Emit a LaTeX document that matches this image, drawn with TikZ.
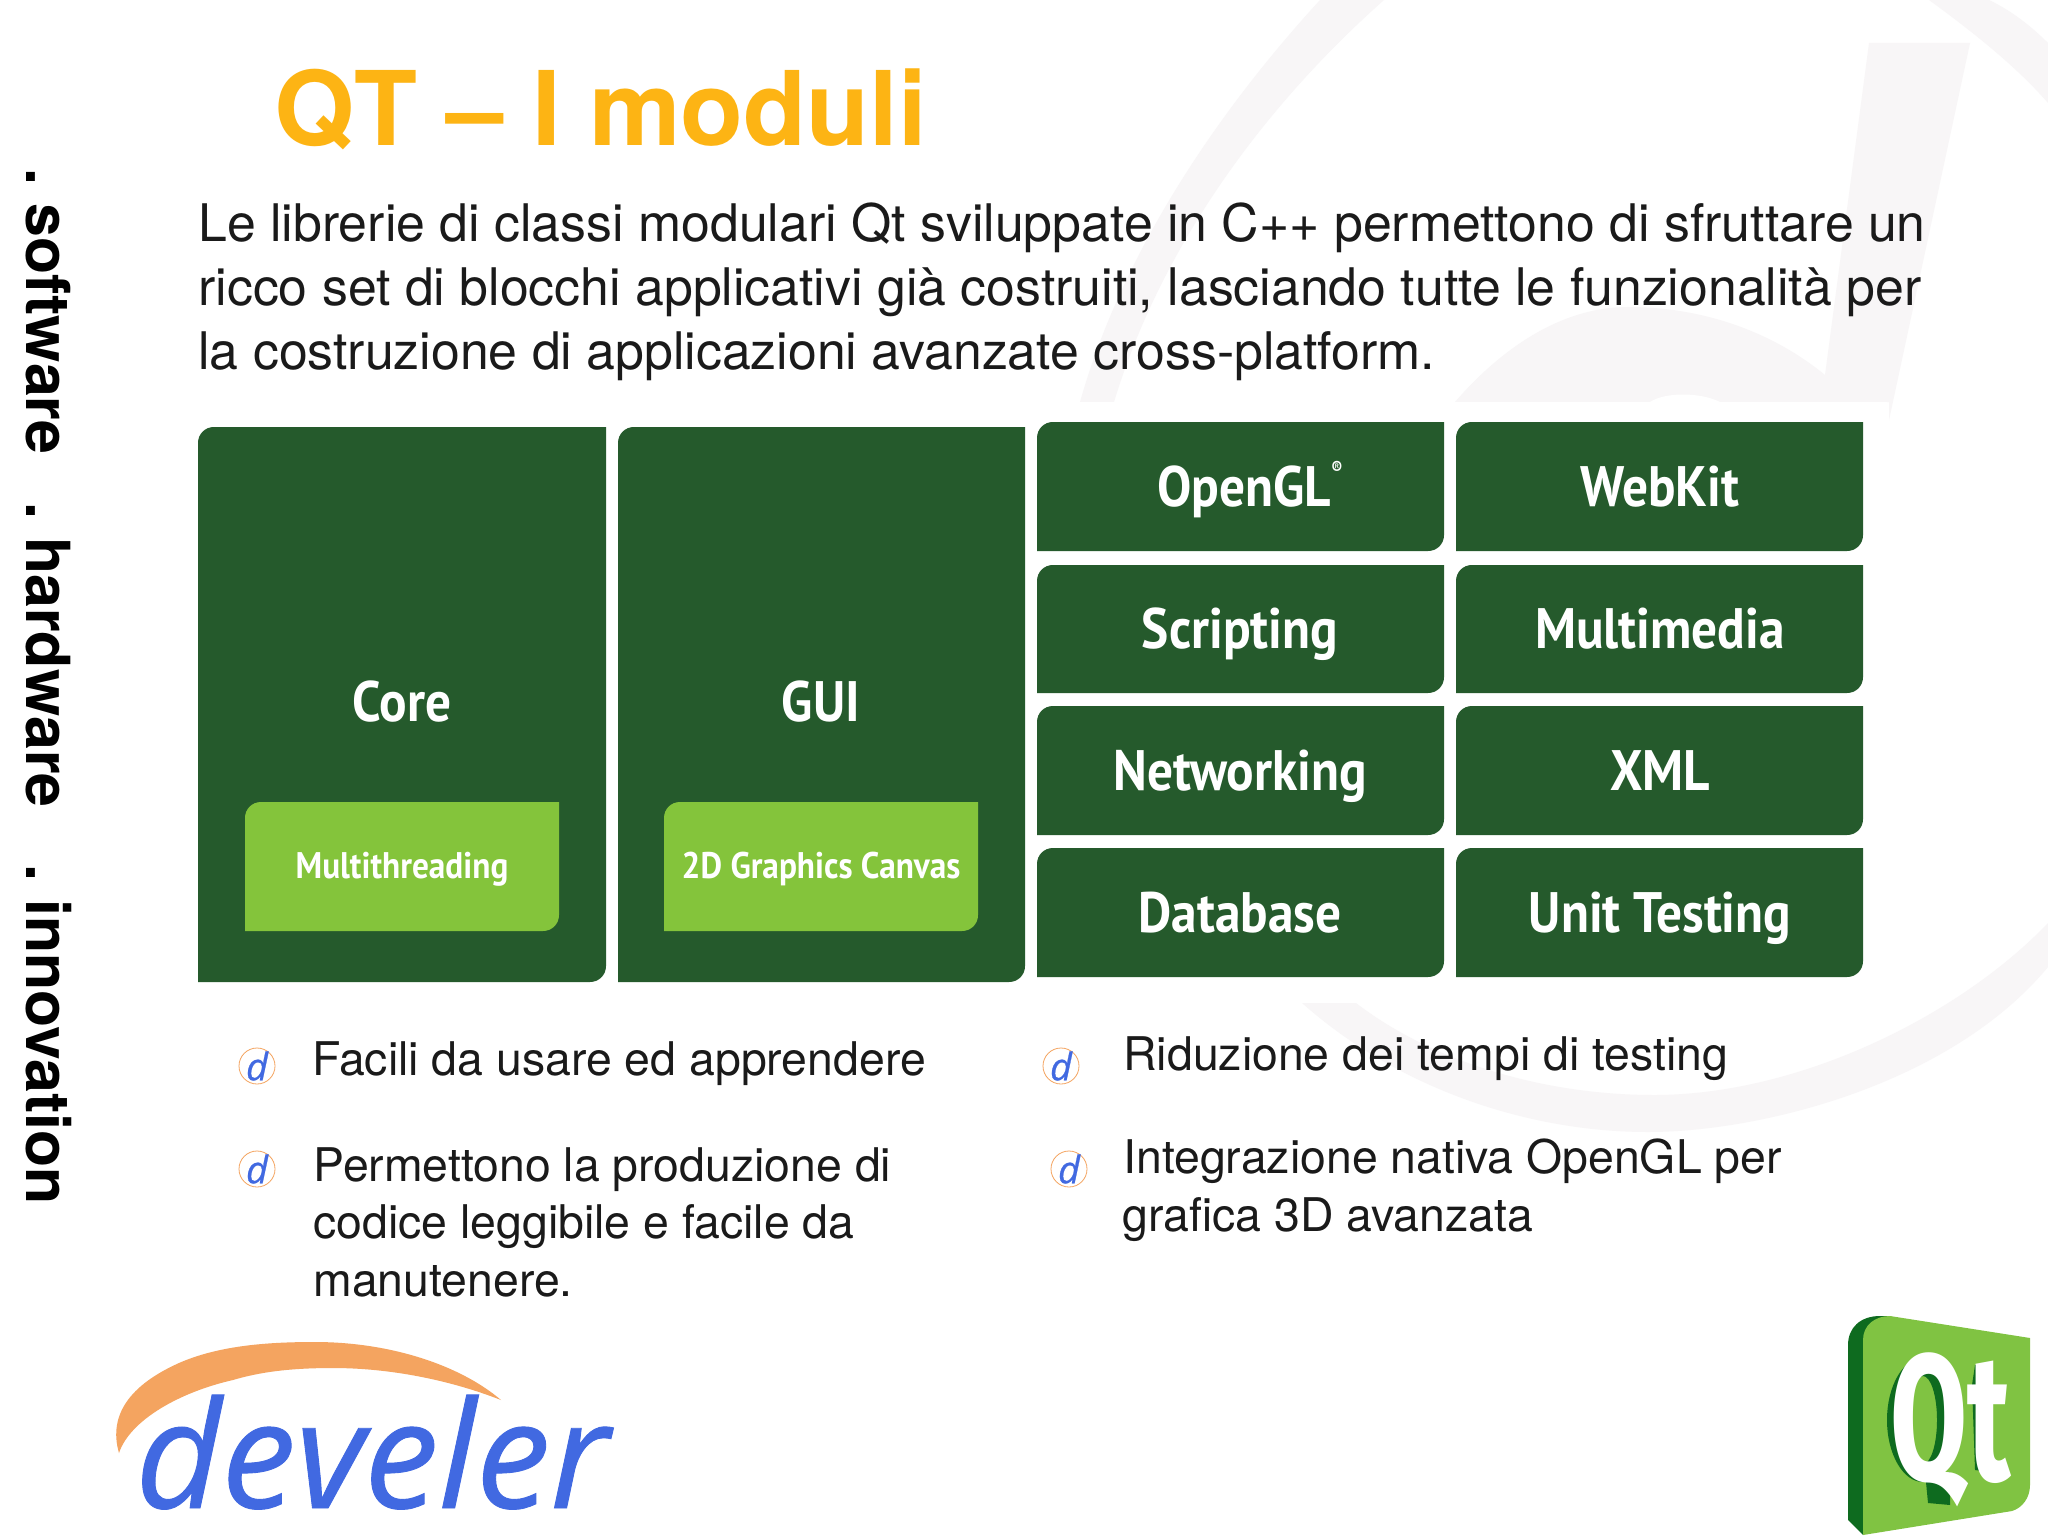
\documentclass[tikz,border=0pt]{standalone}
\usepackage{fontspec}
\setmainfont{TeX Gyre Heros}
\newfontfamily\boxfont[FakeStretch=0.9]{PT Sans}
\newfontfamily\qtfont[FakeStretch=0.62]{Fira Sans}
\newfontfamily\logofont[FakeBold=0.6]{Open Sans}
\definecolor{modgreen}{HTML}{255A2C}
\definecolor{litegreen}{HTML}{84C43B}
\definecolor{wm}{HTML}{F8F6F7}
\definecolor{titleor}{HTML}{FDB414}
\definecolor{textc}{HTML}{1A1A1A}
\definecolor{logoblue}{HTML}{4169E1}
\definecolor{logoor}{HTML}{F4A460}
\definecolor{qtlight}{HTML}{80C342}
\definecolor{qtdark}{HTML}{0E6B1F}
\newcommand{\modshape}[5]{\fill[#5] (#1,#4) -- (#1,{#2+16}) .. controls (#1,{#2+7}) and ({#1+7},#2) .. ({#1+16},#2) -- (#3,#2) -- (#3,{#4-16}) .. controls (#3,{#4-7}) and ({#3-7},#4) .. ({#3-16},#4) -- cycle;}
\newcommand{\bulletd}[3]{\node[bulletc] (#1) at (#2,#3) {}; \node[bulletl] at (#1.center) {d};}
\tikzset{
  bigl/.style={anchor=base,text=white,font=\boxfont\fontsize{28.5}{28.5}\selectfont\bfseries,inner sep=0pt},
  smalll/.style={anchor=base,text=white,font=\boxfont\fontsize{18.5}{18.5}\selectfont\bfseries,inner sep=0pt},
  bodyt/.style={anchor=base west,text=textc,font=\fontsize{25.9}{25.9}\selectfont,inner sep=0pt},
  bult/.style={anchor=base west,text=textc,font=\fontsize{23.2}{23.2}\selectfont,inner sep=0pt},
  bulletc/.style={circle,draw=logoor,line width=0.4pt,fill=white,minimum size=18pt,inner sep=0pt},
  bulletl/.style={text=logoblue,font=\logofont\itshape\fontsize{19}{19}\selectfont,inner sep=0pt},
  sidet/.style={anchor=base west,rotate=-90,text=black,font=\bfseries\fontsize{30.4}{30.4}\selectfont,inner sep=0pt}
}
\begin{document}
\begin{tikzpicture}[x=0.5pt,y=-0.5pt]
\useasboundingbox (0,0) rectangle (2048,1535);
\fill[white] (0,0) rectangle (2048,1535);
% watermark
\fill[wm] (1320,0) .. controls (1210,120) and (1120,260) .. (1080,402) -- (1114,402) .. controls (1160,250) and (1260,110) .. (1384,0) -- cycle;
\fill[wm] (1929,0) .. controls (1970,30) and (2015,65) .. (2048,103) -- (2048,43) .. controls (2030,25) and (2010,10) .. (1989,0) -- cycle;
\fill[wm] (1302,1003) .. controls (1400,1090) and (1530,1132) .. (1648,1132) .. controls (1760,1132) and (1950,1085) .. (2048,967) -- (2048,923) .. controls (1960,1015) and (1800,1095) .. (1654,1095) .. controls (1540,1095) and (1430,1060) .. (1356,1003) -- cycle;
\fill[wm] (1869,43) -- (1970,43) -- (1889,420) -- (1889,402) -- (1455,402) .. controls (1500,350) and (1560,307) .. (1628,307) .. controls (1700,307) and (1770,330) .. (1825,375) -- cycle;
\fill[white] (190,402) rectangle (1887,1003);
\fill[white] (1650,402) .. controls (1665,392) and (1700,392) .. (1720,402) -- cycle;
% title and intro
\node[anchor=base west,text=titleor,font=\bfseries\fontsize{51.5}{51.5}\selectfont,inner sep=0pt] (title) at (274,146) {QT – I moduli};
\node[bodyt] (l1) at (198,242) {Le librerie di classi modulari Qt sviluppate in C++ permettono di sfruttare un};
\node[bodyt] (l2) at (198,306) {ricco set di blocchi applicativi già costruiti, lasciando tutte le funzionalità per};
\node[bodyt] (l3) at (198,370) {la costruzione di applicazioni avanzate cross-platform.};
% side
\node[sidet] (side) at (26,168) {.\hspace{9pt}software\hspace{24pt}.\hspace{9pt}hardware\hspace{28.5pt}.\hspace{9pt}innovation};
% modules
\modshape{198}{427}{606}{982}{modgreen}
\modshape{618}{427}{1025}{982}{modgreen}
\modshape{245}{802}{559}{931}{litegreen}
\modshape{664}{802}{978}{931}{litegreen}
\modshape{1037}{422}{1444}{551}{modgreen}
\modshape{1456}{422}{1863}{551}{modgreen}
\modshape{1037}{565}{1444}{693}{modgreen}
\modshape{1456}{565}{1863}{693}{modgreen}
\modshape{1037}{706}{1444}{835}{modgreen}
\modshape{1456}{706}{1863}{835}{modgreen}
\modshape{1037}{848}{1444}{977}{modgreen}
\modshape{1456}{848}{1863}{977}{modgreen}
\node[bigl] (core) at (402,721) {Core};
\node[bigl] (gui) at (821,721) {GUI};
\node[smalll] (mt) at (402,878) {Multithreading};
\node[smalll] (gc) at (821,878) {2D Graphics Canvas};
\node[bigl] (ogl) at (1250,506) {OpenGL\raisebox{0.55em}{\fontsize{9}{9}\selectfont ®}};
\node[bigl] (wk) at (1660,506) {WebKit};
\node[bigl] (scr) at (1240,648) {Scripting};
\node[bigl] (mm) at (1660,648) {Multimedia};
\node[bigl] (net) at (1240,790) {Networking};
\node[bigl] (xml) at (1660,790) {XML};
\node[bigl] (db) at (1240,932) {Database};
\node[bigl] (ut) at (1660,932) {Unit Testing};
% bullets
\bulletd{b1}{257}{1066}
\bulletd{b2}{257}{1169}
\bulletd{b3}{1061}{1066}
\bulletd{b4}{1069}{1169}
\node[bult] (t1) at (312,1075) {Facili da usare ed apprendere};
\node[bult] (t2a) at (313,1181) {Permettono la produzione di};
\node[bult] (t2b) at (313,1238) {codice leggibile e facile da};
\node[bult] (t2c) at (313,1296) {manutenere.};
\node[bult] (t3) at (1123,1070) {Riduzione dei tempi di testing};
\node[bult] (t4a) at (1123,1173) {Integrazione nativa OpenGL per};
\node[bult] (t4b) at (1122,1231) {grafica 3D avanzata};
% develer logo
\fill[logoor] (119,1453) .. controls (108,1415) and (130,1385) .. (179,1363) .. controls (220,1345) and (270,1342) .. (315,1342) .. controls (390,1342) and (460,1365) .. (501,1400) .. controls (450,1380) and (390,1368) .. (333,1368) .. controls (290,1368) and (260,1372) .. (233,1380) .. controls (180,1392) and (130,1420) .. (119,1453) -- cycle;
\node[anchor=base west,text=logoblue,font=\logofont\itshape\fontsize{74.5}{74.5}\selectfont,inner sep=0pt] (dev) at (135,1508) {develer};
% Qt logo
\fill[qtdark] (1863,1535) -- (1848,1520) -- (1848,1345) .. controls (1848,1328) and (1860,1316) .. (1880,1316) -- (1890,1316) -- (1890,1340) -- (1863,1400) -- cycle;
\fill[qtlight] (1863,1535) -- (1863,1340) .. controls (1863,1325) and (1875,1316) .. (1890,1316) -- (2030,1338) -- (2030,1485) .. controls (2030,1498) and (2022,1508) .. (2012,1511) -- cycle;
\fill[qtdark,even odd rule] (1923,1420) ellipse [x radius=36,y radius=62] (1923,1420) ellipse [x radius=14,y radius=44];
\fill[qtdark] (1925,1472) -- (1928,1503) -- (1950,1505) -- (1950,1472) -- cycle;
\fill[qtdark] (1972,1385) -- (1975,1365) -- (1982,1365) -- (1982,1470) -- (1995,1473) -- (1975,1470) -- cycle;
\node[anchor=base,text=white,font=\qtfont\fontsize{90}{90}\selectfont\bfseries,inner sep=0pt] (qt) at (1951,1480) {Qt};
\end{tikzpicture}
\end{document}
